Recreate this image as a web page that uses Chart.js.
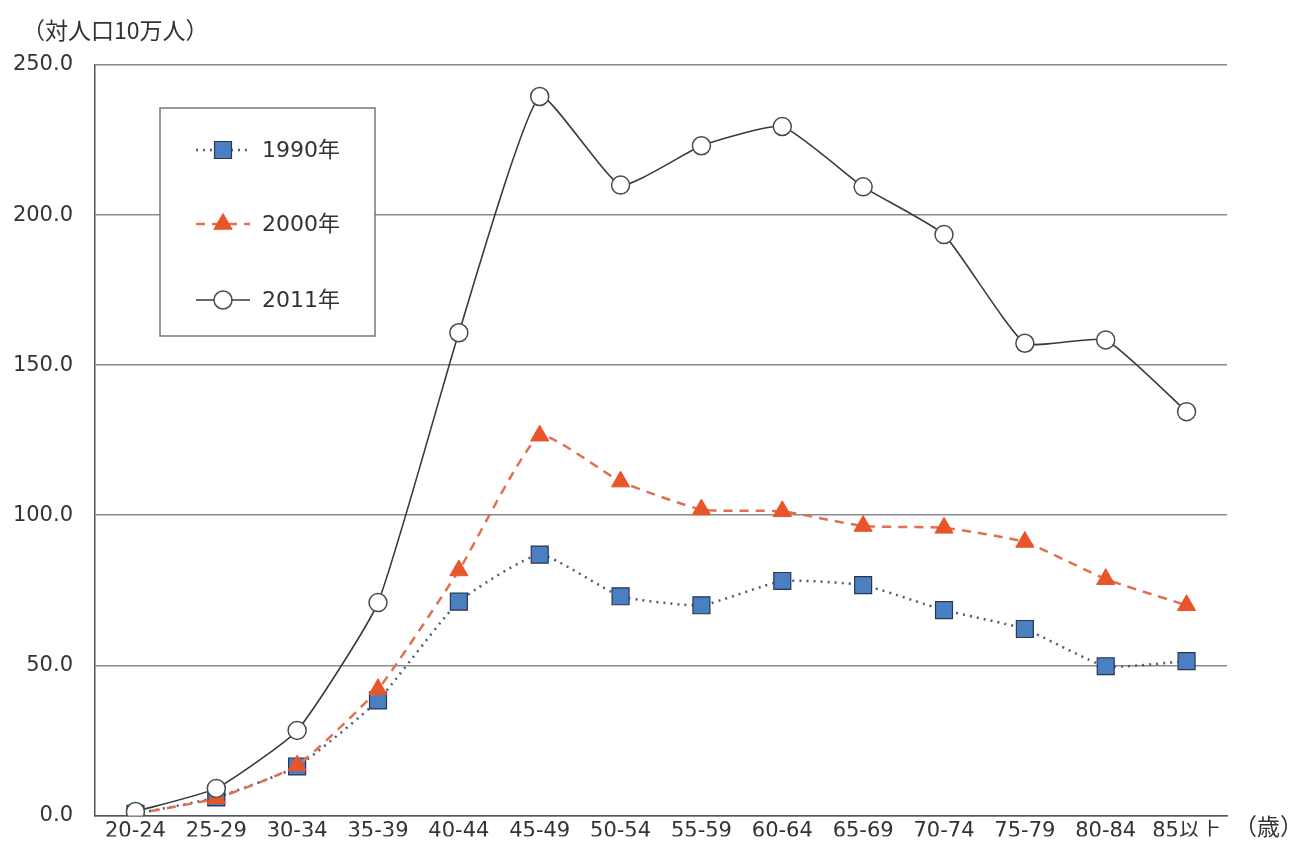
<!DOCTYPE html>
<html><head><meta charset="utf-8">
<script src="https://cdn.jsdelivr.net/npm/chart.js@4/dist/chart.umd.min.js"></script>
<style>html,body{margin:0;padding:0;background:#fff;overflow:hidden}#wrap{width:1305px;height:850px;overflow:hidden}canvas{display:block}</style>
</head><body><div id="wrap"><canvas id="c" width="1305" height="850"></canvas></div>
<script>
const categories = ["20-24","25-29","30-34","35-39","40-44","45-49","50-54","55-59","60-64","65-69","70-74","75-79","80-84","85以上"];
const seriesNames = ["1990年","2000年","2011年"];
const values1990 = [0.5, 6.0, 16.3, 38.3, 71.2, 86.9, 73.0, 70.0, 78.1, 76.7, 68.4, 62.1, 49.7, 51.4];
const values2000 = [0.5, 5.7, 16.6, 42.0, 81.6, 126.5, 111.2, 101.9, 101.3, 96.4, 95.8, 91.1, 78.7, 70.0];
const values2011 = [1.3, 9.0, 28.3, 70.9, 160.8, 239.5, 210.0, 223.1, 229.5, 209.4, 193.5, 157.3, 158.4, 134.5];
const yTicks = [0, 50, 100, 150, 200, 250];
const yUnitLabel = "（対人口10万人）";
const xUnitLabel = "（歳）";

const FONT = "'DejaVu Sans', 'Noto Sans CJK JP', sans-serif";
const CJK = "'Noto Sans CJK JP', sans-serif";

function drawMarker(ctx, style, x, y, r, fill, stroke, lw){
  ctx.save();
  ctx.fillStyle = fill; ctx.strokeStyle = stroke; ctx.lineWidth = lw; ctx.setLineDash([]);
  ctx.beginPath();
  if (style === 'rect'){ const s = r*Math.SQRT1_2; ctx.rect(x-s, y-s, 2*s, 2*s); }
  else if (style === 'triangle'){
    const a = Math.PI/2;
    ctx.moveTo(x + Math.cos(-a)*r, y + Math.sin(-a)*r);
    ctx.lineTo(x + Math.cos(-a+2*Math.PI/3)*r, y + Math.sin(-a+2*Math.PI/3)*r);
    ctx.lineTo(x + Math.cos(-a+4*Math.PI/3)*r, y + Math.sin(-a+4*Math.PI/3)*r);
    ctx.closePath();
  } else { ctx.arc(x, y, r, 0, Math.PI*2); }
  ctx.fill(); ctx.stroke(); ctx.restore();
}

const customLegend = {
  id: 'customLegend',
  afterDraw(chart){
    const ctx = chart.ctx;
    ctx.save();
    const bx = 160, by = 108, bw = 215, bh = 228;
    ctx.fillStyle = '#fff';
    ctx.fillRect(bx, by, bw, bh);
    ctx.strokeStyle = '#777'; ctx.lineWidth = 1.5;
    ctx.strokeRect(bx, by, bw, bh);
    const rows = [150, 224, 300];
    chart.data.datasets.forEach((ds, i) => {
      const y = rows[i];
      ctx.save();
      ctx.strokeStyle = ds.borderColor; ctx.lineWidth = ds.borderWidth;
      ctx.setLineDash(ds.borderDash || []);
      ctx.beginPath(); ctx.moveTo(196, y); ctx.lineTo(250, y); ctx.stroke();
      ctx.restore();
      drawMarker(ctx, ds.pointStyle, 223, y, ds.pointRadius, ds.pointBackgroundColor, ds.pointBorderColor, ds.pointBorderWidth);
      ctx.fillStyle = '#333';
      ctx.font = "22px " + FONT;
      ctx.textBaseline = 'middle'; ctx.textAlign = 'left';
      ctx.fillText(ds.label, 262, y + 1);
    });
    ctx.fillStyle = '#333';
    ctx.font = "23px " + CJK;
    ctx.textAlign = 'left'; ctx.textBaseline = 'middle';
    ctx.fillText(yUnitLabel, 22, 30);
    ctx.fillText(xUnitLabel, 1234, 826);
    ctx.restore();
  }
};

new Chart(document.getElementById('c'), {
  type: 'line',
  data: {
    labels: categories,
    datasets: [
      { label: seriesNames[0], data: values1990, borderColor: '#4e5d78', borderWidth: 2.5, borderDash: [2,5],
        pointStyle: 'rect', pointRadius: 12, pointBackgroundColor: '#4a7fc1', pointBorderColor: '#2b3550', pointBorderWidth: 1.2, tension: 0.15, order: 3 },
      { label: seriesNames[1], data: values2000, borderColor: '#e07050', borderWidth: 2.5, borderDash: [9,7],
        pointStyle: 'triangle', pointRadius: 10.5, pointBackgroundColor: '#e8552b', pointBorderColor: '#e8552b', pointBorderWidth: 1, tension: 0.15, order: 2 },
      { label: seriesNames[2], data: values2011, borderColor: '#3a3a3a', borderWidth: 1.6,
        pointStyle: 'circle', pointRadius: 9, pointBackgroundColor: '#ffffff', pointBorderColor: '#4a4a4a', pointBorderWidth: 1.5, tension: 0.15, order: 1 }
    ]
  },
  options: {
    responsive: false, animation: false, devicePixelRatio: 1,
    layout: { padding: { top: 65, right: 78, bottom: 0, left: 0 } },
    plugins: { legend: { display: false }, tooltip: { enabled: false } },
    scales: {
      x: {
        offset: true,
        grid: { display: false, drawTicks: false },
        border: { display: true, color: '#555', width: 1.5 },
        ticks: { color: '#333', font: { size: 21, family: FONT, lineHeight: 1 }, padding: 6, maxRotation: 0, autoSkip: false },
        afterFit(s){ s.height = 21; }
      },
      y: {
        min: 0, max: 250,
        afterBuildTicks(s){ s.ticks = yTicks.map(v => ({ value: v })); },
        grid: { color: '#8a8a8a', lineWidth: 1.5, drawTicks: false },
        border: { display: true, color: '#555', width: 1.5 },
        ticks: { color: '#333', font: { size: 21, family: FONT }, padding: 22, callback: v => Number(v).toFixed(1) },
        afterFit(s){ s.width = 95; }
      }
    }
  },
  plugins: [customLegend]
});
</script></body></html>
